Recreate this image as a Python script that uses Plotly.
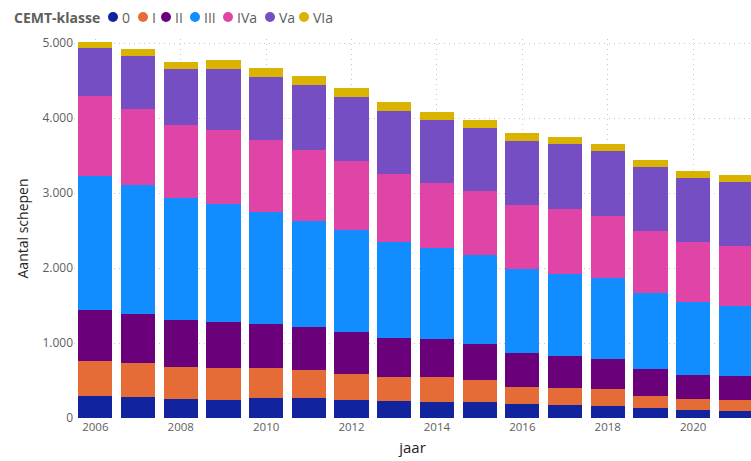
import plotly.graph_objects as go

years = list(range(2006, 2022))
classes = ["0", "I", "II", "III", "IVa", "Va", "VIa"]
colors = ["#12239E", "#E66C37", "#6B007B", "#118DFF", "#E044A7", "#744EC2", "#D9B300"]

v_0 = [293, 280, 249, 240, 267, 271, 245, 223, 218, 218, 192, 169, 165, 129, 103, 93]
v_I = [463, 449, 436, 427, 396, 365, 347, 329, 329, 285, 227, 236, 222, 164, 156, 147]
v_II = [680, 658, 622, 613, 586, 573, 555, 511, 502, 489, 444, 422, 400, 366, 320, 316]
v_III = [1796, 1716, 1632, 1573, 1494, 1423, 1356, 1289, 1223, 1181, 1120, 1098, 1080, 1008, 973, 943]
v_IVa = [1057, 1017, 968, 992, 960, 937, 920, 901, 867, 854, 862, 858, 822, 822, 791, 790]
v_Va = [644, 707, 751, 813, 840, 876, 862, 846, 840, 840, 848, 866, 871, 858, 853, 854]
v_VIa = [86, 89, 89, 115, 124, 115, 115, 114, 106, 112, 107, 98, 98, 93, 103, 93]

series = [v_0, v_I, v_II, v_III, v_IVa, v_Va, v_VIa]

W, H = 751, 461
ML, MR, MT, MB = 74, 0, 39, 43
PW, PH = W - ML - MR, H - MT - MB

FONT = "Segoe UI, Open Sans, sans-serif"

fig = go.Figure()
for name, vals, col in zip(classes, series, colors):
    fig.add_trace(go.Bar(x=years, y=vals, name=name, marker_color=col,
                         marker_line_width=0, showlegend=False))


def px_x(p):
    return (p - ML) / PW


def px_y(p):
    return (H - MB - p) / PH


annotations = []
shapes = []
# legend title
annotations.append(dict(text="<b>CEMT-klasse</b>", x=px_x(12), y=px_y(17), xref="paper", yref="paper",
                        xanchor="left", yanchor="middle", showarrow=False,
                        font=dict(family=FONT, size=14, color="#605E5C")))
circle_x = [113, 143, 166, 195, 228, 270, 304]
r = 5
for cx, name, col in zip(circle_x, classes, colors):
    shapes.append(dict(type="circle", xref="paper", yref="paper",
                       x0=px_x(cx - r), x1=px_x(cx + r), y0=px_y(17 + r), y1=px_y(17 - r),
                       fillcolor=col, line_width=0))
    annotations.append(dict(text=name, x=px_x(cx + 7), y=px_y(17), xref="paper", yref="paper",
                            xanchor="left", yanchor="middle", showarrow=False,
                            font=dict(family=FONT, size=14, color="#605E5C")))

fig.update_layout(
    width=W, height=H,
    margin=dict(l=ML, r=MR, t=MT, b=MB),
    barmode="stack", bargap=0.2,
    plot_bgcolor="white", paper_bgcolor="white",
    separators=",.",
    font=dict(family=FONT, color="#605E5C"),
    annotations=annotations, shapes=shapes,
    xaxis=dict(range=[2005.5, 2005.5 + PW / 42.7], tickmode="linear", tick0=2006, dtick=2,
               showgrid=True, gridcolor="#C8C8C8", griddash="1px,4px", gridwidth=1,
               ticks="", tickfont=dict(size=11.5, color="#605E5C"),
               title=dict(text="jaar", font=dict(size=15, color="#252423"), standoff=9),
               zeroline=False, showline=False),
    yaxis=dict(range=[0, PH / 0.075], tickvals=[0, 1000, 2000, 3000, 4000, 5000], tickformat=",",
               showgrid=True, gridcolor="#C8C8C8", griddash="1px,4px", gridwidth=1,
               ticks="", tickfont=dict(size=12, color="#605E5C"),
               title=dict(text="Aantal schepen", font=dict(size=14, color="#252423"), standoff=10),
               zeroline=False, showline=False),
)

fig.write_html("out.html", config={"displayModeBar": False},
               post_script="document.body.style.margin='0';")
